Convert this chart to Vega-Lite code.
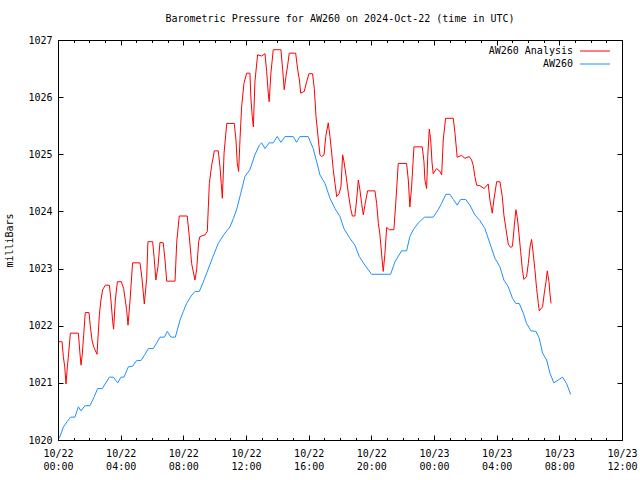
{
  "$schema": "https://vega.github.io/schema/vega-lite/v6.json",
  "width": 564,
  "height": 400,
  "autosize": {"type": "none"},
  "padding": {"left": 58, "top": 40, "right": 18, "bottom": 40},
  "background": "white",
  "title": {"text": "Barometric Pressure for AW260 on 2024-Oct-22 (time in UTC)", "anchor": "middle", "offset": 11, "font": "DejaVu Sans Mono", "fontSize": 10, "fontWeight": "normal", "color": "black"},
  "config": {
    "font": "DejaVu Sans Mono",
    "view": {"stroke": "black", "strokeWidth": 1},
    "axis": {"domain": false, "grid": false, "labelFont": "DejaVu Sans Mono", "labelFontSize": 10, "labelColor": "black", "tickColor": "black", "titleFont": "DejaVu Sans Mono", "titleFontSize": 10, "titleFontWeight": "normal", "titleColor": "black"},
    "legend": {"labelFont": "DejaVu Sans Mono", "labelFontSize": 10, "labelColor": "black"}
  },
  "datasets": {
    "analysis": [
      {"hour":0.04,"mbar":1021.72},{"hour":0.26,"mbar":1021.72},{"hour":0.34,"mbar":1021.46},{"hour":0.43,"mbar":1021.28},{"hour":0.51,"mbar":1020.98},{"hour":0.60,"mbar":1021.28},{"hour":0.68,"mbar":1021.52},{"hour":0.79,"mbar":1021.87},{"hour":1.30,"mbar":1021.87},{"hour":1.40,"mbar":1021.52},{"hour":1.47,"mbar":1021.31},{"hour":1.55,"mbar":1021.50},{"hour":1.64,"mbar":1021.84},{"hour":1.74,"mbar":1022.23},{"hour":1.98,"mbar":1022.23},{"hour":2.06,"mbar":1022.00},{"hour":2.17,"mbar":1021.75},{"hour":2.28,"mbar":1021.63},{"hour":2.49,"mbar":1021.50},{"hour":2.64,"mbar":1022.19},{"hour":2.74,"mbar":1022.45},{"hour":2.85,"mbar":1022.63},{"hour":3.02,"mbar":1022.71},{"hour":3.28,"mbar":1022.71},{"hour":3.38,"mbar":1022.45},{"hour":3.49,"mbar":1022.07},{"hour":3.55,"mbar":1021.94},{"hour":3.66,"mbar":1022.45},{"hour":3.79,"mbar":1022.77},{"hour":4.04,"mbar":1022.77},{"hour":4.19,"mbar":1022.65},{"hour":4.38,"mbar":1022.28},{"hour":4.47,"mbar":1022.01},{"hour":4.60,"mbar":1022.45},{"hour":4.76,"mbar":1023.10},{"hour":5.23,"mbar":1023.10},{"hour":5.36,"mbar":1022.83},{"hour":5.51,"mbar":1022.38},{"hour":5.66,"mbar":1022.83},{"hour":5.74,"mbar":1023.47},{"hour":6.04,"mbar":1023.47},{"hour":6.13,"mbar":1023.21},{"hour":6.25,"mbar":1022.80},{"hour":6.38,"mbar":1023.03},{"hour":6.51,"mbar":1023.46},{"hour":6.72,"mbar":1023.45},{"hour":6.83,"mbar":1023.15},{"hour":6.94,"mbar":1022.78},{"hour":7.47,"mbar":1022.78},{"hour":7.58,"mbar":1023.47},{"hour":7.74,"mbar":1023.92},{"hour":8.25,"mbar":1023.92},{"hour":8.38,"mbar":1023.56},{"hour":8.53,"mbar":1023.09},{"hour":8.74,"mbar":1022.80},{"hour":8.85,"mbar":1022.98},{"hour":8.98,"mbar":1023.47},{"hour":9.06,"mbar":1023.56},{"hour":9.38,"mbar":1023.59},{"hour":9.53,"mbar":1023.65},{"hour":9.66,"mbar":1024.49},{"hour":9.81,"mbar":1024.81},{"hour":9.98,"mbar":1025.06},{"hour":10.23,"mbar":1025.06},{"hour":10.34,"mbar":1024.78},{"hour":10.42,"mbar":1024.49},{"hour":10.49,"mbar":1024.23},{"hour":10.60,"mbar":1025.02},{"hour":10.77,"mbar":1025.54},{"hour":11.25,"mbar":1025.54},{"hour":11.36,"mbar":1025.25},{"hour":11.44,"mbar":1024.85},{"hour":11.53,"mbar":1024.70},{"hour":11.62,"mbar":1025.28},{"hour":11.72,"mbar":1025.83},{"hour":11.87,"mbar":1026.24},{"hour":12.04,"mbar":1026.42},{"hour":12.25,"mbar":1026.42},{"hour":12.32,"mbar":1025.95},{"hour":12.40,"mbar":1025.66},{"hour":12.47,"mbar":1025.48},{"hour":12.57,"mbar":1026.27},{"hour":12.74,"mbar":1026.74},{"hour":13.0,"mbar":1026.72},{"hour":13.21,"mbar":1026.76},{"hour":13.32,"mbar":1026.45},{"hour":13.42,"mbar":1026.07},{"hour":13.48,"mbar":1025.92},{"hour":13.59,"mbar":1026.42},{"hour":13.74,"mbar":1026.83},{"hour":14.23,"mbar":1026.83},{"hour":14.34,"mbar":1026.48},{"hour":14.44,"mbar":1026.13},{"hour":14.55,"mbar":1026.36},{"hour":14.66,"mbar":1026.56},{"hour":14.76,"mbar":1026.77},{"hour":15.17,"mbar":1026.77},{"hour":15.30,"mbar":1026.48},{"hour":15.41,"mbar":1026.30},{"hour":15.49,"mbar":1026.07},{"hour":15.72,"mbar":1026.10},{"hour":15.87,"mbar":1026.27},{"hour":16.02,"mbar":1026.41},{"hour":16.25,"mbar":1026.41},{"hour":16.36,"mbar":1026.15},{"hour":16.47,"mbar":1025.66},{"hour":16.62,"mbar":1025.25},{"hour":16.72,"mbar":1024.99},{"hour":16.83,"mbar":1024.96},{"hour":16.98,"mbar":1024.99},{"hour":17.09,"mbar":1025.31},{"hour":17.25,"mbar":1025.55},{"hour":17.36,"mbar":1025.31},{"hour":17.47,"mbar":1025.02},{"hour":17.57,"mbar":1024.73},{"hour":17.68,"mbar":1024.49},{"hour":17.79,"mbar":1024.26},{"hour":17.94,"mbar":1024.31},{"hour":18.06,"mbar":1024.43},{"hour":18.17,"mbar":1024.99},{"hour":18.25,"mbar":1024.88},{"hour":18.38,"mbar":1024.64},{"hour":18.53,"mbar":1024.32},{"hour":18.68,"mbar":1024.05},{"hour":18.79,"mbar":1023.92},{"hour":18.95,"mbar":1023.92},{"hour":19.06,"mbar":1024.20},{"hour":19.17,"mbar":1024.55},{"hour":19.27,"mbar":1024.38},{"hour":19.38,"mbar":1024.14},{"hour":19.49,"mbar":1023.94},{"hour":19.59,"mbar":1024.11},{"hour":19.76,"mbar":1024.36},{"hour":20.23,"mbar":1024.36},{"hour":20.34,"mbar":1024.14},{"hour":20.45,"mbar":1023.79},{"hour":20.55,"mbar":1023.59},{"hour":20.66,"mbar":1023.24},{"hour":20.76,"mbar":1022.95},{"hour":20.87,"mbar":1023.27},{"hour":20.98,"mbar":1023.72},{"hour":21.15,"mbar":1023.68},{"hour":21.44,"mbar":1023.68},{"hour":21.55,"mbar":1024.11},{"hour":21.72,"mbar":1024.84},{"hour":22.25,"mbar":1024.84},{"hour":22.36,"mbar":1024.55},{"hour":22.46,"mbar":1024.08},{"hour":22.57,"mbar":1024.43},{"hour":22.72,"mbar":1025.13},{"hour":23.25,"mbar":1025.13},{"hour":23.36,"mbar":1024.87},{"hour":23.42,"mbar":1024.55},{"hour":23.53,"mbar":1024.40},{"hour":23.60,"mbar":1024.96},{"hour":23.70,"mbar":1025.44},{"hour":23.79,"mbar":1025.25},{"hour":23.87,"mbar":1024.87},{"hour":23.95,"mbar":1024.66},{"hour":24.17,"mbar":1024.75},{"hour":24.38,"mbar":1024.70},{"hour":24.49,"mbar":1024.64},{"hour":24.59,"mbar":1025.25},{"hour":24.74,"mbar":1025.63},{"hour":25.23,"mbar":1025.63},{"hour":25.34,"mbar":1025.37},{"hour":25.48,"mbar":1024.95},{"hour":25.76,"mbar":1024.98},{"hour":25.97,"mbar":1024.93},{"hour":26.25,"mbar":1024.96},{"hour":26.40,"mbar":1024.90},{"hour":26.50,"mbar":1024.81},{"hour":26.61,"mbar":1024.61},{"hour":26.72,"mbar":1024.46},{"hour":26.93,"mbar":1024.45},{"hour":27.20,"mbar":1024.40},{"hour":27.46,"mbar":1024.48},{"hour":27.57,"mbar":1024.20},{"hour":27.72,"mbar":1023.97},{"hour":27.82,"mbar":1024.20},{"hour":28.00,"mbar":1024.52},{"hour":28.21,"mbar":1024.52},{"hour":28.36,"mbar":1024.26},{"hour":28.46,"mbar":1023.94},{"hour":28.59,"mbar":1023.70},{"hour":28.74,"mbar":1023.43},{"hour":28.89,"mbar":1023.37},{"hour":29.01,"mbar":1023.39},{"hour":29.12,"mbar":1023.73},{"hour":29.23,"mbar":1024.03},{"hour":29.31,"mbar":1023.91},{"hour":29.42,"mbar":1023.62},{"hour":29.53,"mbar":1023.30},{"hour":29.64,"mbar":1022.98},{"hour":29.74,"mbar":1022.81},{"hour":29.91,"mbar":1022.86},{"hour":30.02,"mbar":1023.09},{"hour":30.13,"mbar":1023.38},{"hour":30.23,"mbar":1023.51},{"hour":30.33,"mbar":1023.27},{"hour":30.44,"mbar":1022.98},{"hour":30.55,"mbar":1022.65},{"hour":30.66,"mbar":1022.39},{"hour":30.72,"mbar":1022.26},{"hour":30.93,"mbar":1022.33},{"hour":31.04,"mbar":1022.57},{"hour":31.15,"mbar":1022.77},{"hour":31.23,"mbar":1022.96},{"hour":31.34,"mbar":1022.77},{"hour":31.40,"mbar":1022.57},{"hour":31.47,"mbar":1022.39}
    ],
    "station": [
      {"hour":0.08,"mbar":1020.03},{"hour":0.35,"mbar":1020.23},{"hour":0.6,"mbar":1020.33},{"hour":0.8,"mbar":1020.40},{"hour":1.08,"mbar":1020.40},{"hour":1.30,"mbar":1020.58},{"hour":1.47,"mbar":1020.51},{"hour":1.72,"mbar":1020.60},{"hour":2.04,"mbar":1020.60},{"hour":2.3,"mbar":1020.75},{"hour":2.53,"mbar":1020.90},{"hour":2.83,"mbar":1020.90},{"hour":3.05,"mbar":1021.00},{"hour":3.28,"mbar":1021.10},{"hour":3.53,"mbar":1021.10},{"hour":3.81,"mbar":1021.00},{"hour":4.02,"mbar":1021.10},{"hour":4.21,"mbar":1021.10},{"hour":4.49,"mbar":1021.28},{"hour":4.76,"mbar":1021.29},{"hour":5.02,"mbar":1021.39},{"hour":5.30,"mbar":1021.39},{"hour":5.55,"mbar":1021.50},{"hour":5.77,"mbar":1021.60},{"hour":6.08,"mbar":1021.60},{"hour":6.3,"mbar":1021.70},{"hour":6.51,"mbar":1021.80},{"hour":6.79,"mbar":1021.80},{"hour":6.98,"mbar":1021.90},{"hour":7.21,"mbar":1021.80},{"hour":7.49,"mbar":1021.80},{"hour":7.79,"mbar":1022.10},{"hour":8.0,"mbar":1022.25},{"hour":8.21,"mbar":1022.39},{"hour":8.5,"mbar":1022.52},{"hour":8.74,"mbar":1022.60},{"hour":9.02,"mbar":1022.60},{"hour":9.25,"mbar":1022.75},{"hour":9.49,"mbar":1022.92},{"hour":9.85,"mbar":1023.18},{"hour":10.23,"mbar":1023.44},{"hour":10.6,"mbar":1023.60},{"hour":10.98,"mbar":1023.73},{"hour":11.2,"mbar":1023.88},{"hour":11.4,"mbar":1024.03},{"hour":11.65,"mbar":1024.30},{"hour":11.93,"mbar":1024.61},{"hour":12.25,"mbar":1024.73},{"hour":12.57,"mbar":1024.99},{"hour":12.85,"mbar":1025.16},{"hour":13.0,"mbar":1025.20},{"hour":13.21,"mbar":1025.10},{"hour":13.48,"mbar":1025.20},{"hour":13.74,"mbar":1025.20},{"hour":13.99,"mbar":1025.31},{"hour":14.23,"mbar":1025.21},{"hour":14.49,"mbar":1025.31},{"hour":15.02,"mbar":1025.31},{"hour":15.23,"mbar":1025.21},{"hour":15.44,"mbar":1025.31},{"hour":15.97,"mbar":1025.31},{"hour":16.29,"mbar":1025.10},{"hour":16.5,"mbar":1024.88},{"hour":16.72,"mbar":1024.64},{"hour":17.04,"mbar":1024.49},{"hour":17.36,"mbar":1024.23},{"hour":17.68,"mbar":1024.05},{"hour":18.0,"mbar":1023.91},{"hour":18.25,"mbar":1023.70},{"hour":18.63,"mbar":1023.53},{"hour":18.95,"mbar":1023.41},{"hour":19.23,"mbar":1023.21},{"hour":19.59,"mbar":1023.06},{"hour":20.02,"mbar":1022.90},{"hour":21.23,"mbar":1022.90},{"hour":21.51,"mbar":1023.12},{"hour":21.93,"mbar":1023.31},{"hour":22.25,"mbar":1023.31},{"hour":22.46,"mbar":1023.56},{"hour":22.68,"mbar":1023.68},{"hour":23.0,"mbar":1023.80},{"hour":23.2,"mbar":1023.85},{"hour":23.4,"mbar":1023.90},{"hour":23.95,"mbar":1023.90},{"hour":24.27,"mbar":1024.03},{"hour":24.48,"mbar":1024.14},{"hour":24.76,"mbar":1024.30},{"hour":25.02,"mbar":1024.30},{"hour":25.23,"mbar":1024.21},{"hour":25.48,"mbar":1024.11},{"hour":25.70,"mbar":1024.21},{"hour":26.02,"mbar":1024.21},{"hour":26.29,"mbar":1024.11},{"hour":26.61,"mbar":1023.94},{"hour":26.93,"mbar":1023.84},{"hour":27.25,"mbar":1023.70},{"hour":27.57,"mbar":1023.44},{"hour":27.89,"mbar":1023.18},{"hour":28.21,"mbar":1023.03},{"hour":28.46,"mbar":1022.80},{"hour":28.74,"mbar":1022.68},{"hour":29.01,"mbar":1022.48},{"hour":29.23,"mbar":1022.39},{"hour":29.44,"mbar":1022.39},{"hour":29.70,"mbar":1022.22},{"hour":29.91,"mbar":1022.04},{"hour":30.19,"mbar":1021.91},{"hour":30.51,"mbar":1021.90},{"hour":30.72,"mbar":1021.78},{"hour":30.93,"mbar":1021.52},{"hour":31.19,"mbar":1021.40},{"hour":31.40,"mbar":1021.17},{"hour":31.65,"mbar":1021.00},{"hour":31.93,"mbar":1021.05},{"hour":32.21,"mbar":1021.10},{"hour":32.46,"mbar":1020.99},{"hour":32.72,"mbar":1020.80}
    ]
  },
  "layer": [
    {
      "data": {"name": "analysis"},
      "mark": {"type": "line", "strokeWidth": 1},
      "encoding": {
        "x": {"field": "hour", "type": "quantitative", "scale": {"domain": [0, 36], "nice": false, "zero": false},
              "axis": {"orient": "bottom", "title": null, "values": [0,4,8,12,16,20,24,28,32,36], "tickSize": -5, "labelPadding": 13, "labelFlush": false, "labelLineHeight": 13, "labelBaseline": "top",
                       "labelExpr": "['10/' + (datum.value < 24 ? '22' : '23'), (datum.value % 24 < 10 ? '0' : '') + (datum.value % 24) + ':00']"}},
        "y": {"field": "mbar", "type": "quantitative", "scale": {"domain": [1020, 1027], "nice": false, "zero": false},
              "axis": {"orient": "left", "title": "milliBars", "values": [1020,1021,1022,1023,1024,1025,1026,1027], "tickSize": -5, "labelPadding": 11, "titlePadding": 13, "format": "d"}},
        "color": {"datum": "AW260 Analysis", "type": "nominal",
                  "scale": {"domain": ["AW260 Analysis", "AW260"], "range": ["#ff0000", "#1e90ff"]},
                  "legend": {"title": null, "orient": "none", "legendX": 529, "legendY": 3, "padding": 0, "symbolType": "M-2,0H2", "symbolSize": 225, "symbolStrokeWidth": 1, "labelAlign": "right", "labelOffset": -30, "rowPadding": -2}}
      }
    },
    {
      "data": {"name": "station"},
      "mark": {"type": "line", "strokeWidth": 1},
      "encoding": {
        "x": {"field": "hour", "type": "quantitative", "axis": {"orient": "top", "title": null, "values": [0,4,8,12,16,20,24,28,32,36], "tickSize": -5, "labels": false}},
        "y": {"field": "mbar", "type": "quantitative", "axis": {"orient": "right", "title": null, "values": [1020,1021,1022,1023,1024,1025,1026,1027], "tickSize": -5, "labels": false}},
        "color": {"datum": "AW260", "type": "nominal"}
      }
    },
    {
      "data": {"name": "station"},
      "mark": {"type": "point", "opacity": 0},
      "encoding": {
        "x": {"field": "hour", "type": "quantitative", "axis": {"orient": "bottom", "title": null, "values": [0,1,2,3,4,5,6,7,8,9,10,11,12,13,14,15,16,17,18,19,20,21,22,23,24,25,26,27,28,29,30,31,32,33,34,35,36], "tickSize": -2.5, "labels": false}},
        "y": {"field": "mbar", "type": "quantitative", "axis": null}
      }
    },
    {
      "data": {"name": "station"},
      "mark": {"type": "point", "opacity": 0},
      "encoding": {
        "x": {"field": "hour", "type": "quantitative", "axis": {"orient": "top", "title": null, "values": [0,1,2,3,4,5,6,7,8,9,10,11,12,13,14,15,16,17,18,19,20,21,22,23,24,25,26,27,28,29,30,31,32,33,34,35,36], "tickSize": -2.5, "labels": false}},
        "y": {"field": "mbar", "type": "quantitative", "axis": null}
      }
    }
  ],
  "resolve": {"axis": {"x": "independent", "y": "independent"}}
}
